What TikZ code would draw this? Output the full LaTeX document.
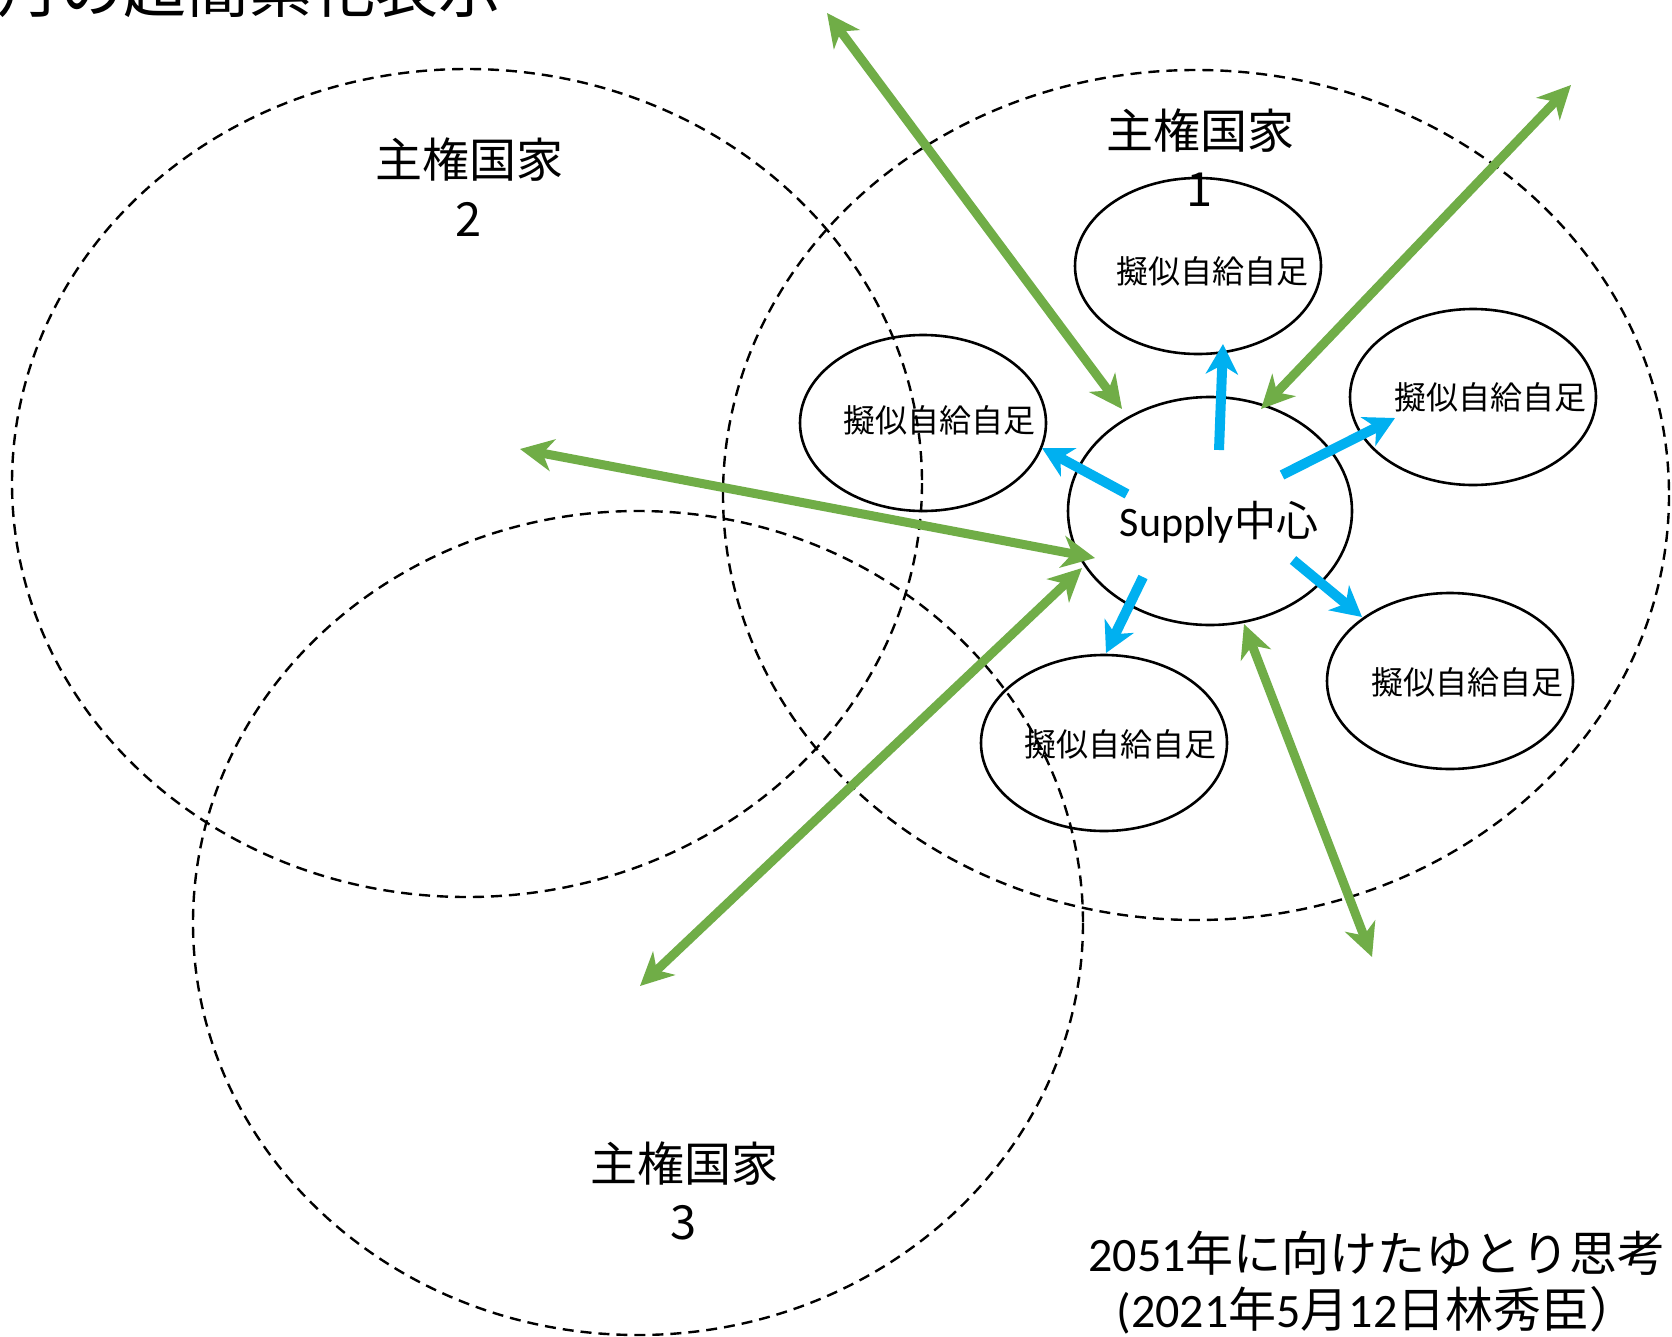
\documentclass[tikz,border=0pt]{standalone}
\usepackage{fontspec}
\setmainfont{Carlito}
\newfontfamily\jp{Noto Sans CJK JP}
\usetikzlibrary{arrows.meta}
\definecolor{ggreen}{HTML}{70AD47}
\definecolor{gblue}{HTML}{00B0F0}
\tikzset{
  nation/.style={draw=black,line width=2.4pt,dash pattern=on 11pt off 7pt},
  selfbox/.style={draw=black,line width=2.6pt},
  garrow/.style={draw=ggreen,line width=9pt,{Stealth[length=33pt,width=32pt,inset=10pt]}-{Stealth[length=33pt,width=32pt,inset=10pt]}},
  barrow/.style={draw=gblue,line width=10pt,-{Stealth[length=30pt,width=32pt,inset=9pt]}},
  lbl/.style={font=\jp\fontsize{47}{58}\selectfont,align=center,inner sep=0pt},
  slbl/.style={font=\jp\fontsize{32}{38}\selectfont,inner sep=0pt},
}
\begin{document}
\begin{tikzpicture}[x=1pt,y=-1pt]
\useasboundingbox (0,0) rectangle (1672,1336);
\fill[white] (0,0) rectangle (1672,1336);
% title (cut off)
\node[anchor=base west,inner sep=0pt,font=\jp\fontsize{63}{70}\selectfont] (title) at (-3,12) {月の超簡素化表示};
% nations
\draw[nation] (467,483) ellipse [x radius=455, y radius=414];
\draw[nation] (1196,495) ellipse [x radius=473, y radius=425];
\draw[nation] (638,923) ellipse [x radius=445, y radius=412];
\node[lbl] (n1a) at (1200,131) {主権国家};
\node[lbl] (n1b) at (1200,190) {1};
\node[lbl] (n2a) at (469,160) {主権国家};
\node[lbl] (n2b) at (469,219) {2};
\node[lbl] (n3a) at (684,1164) {主権国家};
\node[lbl] (n3b) at (684,1223) {3};
% small ellipses
\draw[selfbox] (1198,266) ellipse [x radius=123, y radius=88];
\draw[selfbox] (923,423) ellipse [x radius=123, y radius=88];
\draw[selfbox] (1473,397) ellipse [x radius=123, y radius=88];
\draw[selfbox] (1450,681) ellipse [x radius=123, y radius=88];
\draw[selfbox] (1104,743) ellipse [x radius=123, y radius=88];
\node[slbl] (s1) at (1212,271) {擬似自給自足};
\node[slbl] (s2) at (939,420) {擬似自給自足};
\node[slbl] (s3) at (1490,397) {擬似自給自足};
\node[slbl] (s4) at (1467,682) {擬似自給自足};
\node[slbl] (s5) at (1120,744) {擬似自給自足};
% supply
\draw[selfbox] (1210,511) ellipse [x radius=142, y radius=114];
\node[inner sep=0pt] (sup) at (1219,522) {\fontsize{42}{50}\selectfont Supply{\jp 中心}};
% coordinates
\coordinate (g1a) at (1122,409); \coordinate (g1b) at (827,13);
\coordinate (g2a) at (1261,409); \coordinate (g2b) at (1571,85);
\coordinate (g3a) at (1095,558); \coordinate (g3b) at (520,449);
\coordinate (g4a) at (1082,568); \coordinate (g4b) at (640,986);
\coordinate (g5a) at (1244,624); \coordinate (g5b) at (1372,957);
\draw[garrow] (g1a) -- (g1b);
\draw[garrow] (g2a) -- (g2b);
\draw[garrow] (g3a) -- (g3b);
\draw[garrow] (g4a) -- (g4b);
\draw[garrow] (g5a) -- (g5b);
\coordinate (b1a) at (1219,450); \coordinate (b1b) at (1223,344);
\coordinate (b2a) at (1282,475); \coordinate (b2b) at (1395,418);
\coordinate (b3a) at (1127,494); \coordinate (b3b) at (1042,448);
\coordinate (b4a) at (1293,560); \coordinate (b4b) at (1362,617);
\coordinate (b5a) at (1143,577); \coordinate (b5b) at (1106,653);
\draw[barrow] (b1a) -- (b1b);
\draw[barrow] (b2a) -- (b2b);
\draw[barrow] (b3a) -- (b3b);
\draw[barrow] (b4a) -- (b4b);
\draw[barrow] (b5a) -- (b5b);
% footer
\node[inner sep=0pt,font=\fontsize{48}{56}\selectfont] (f1) at (1377,1253) {2051{\jp 年に向けたゆとり思考}};
\node[inner sep=0pt,font=\fontsize{48}{56}\selectfont] (f2) at (1377,1310) {(2021{\jp 年}5{\jp 月}12{\jp 日林秀臣）}};
\end{tikzpicture}
\end{document}
